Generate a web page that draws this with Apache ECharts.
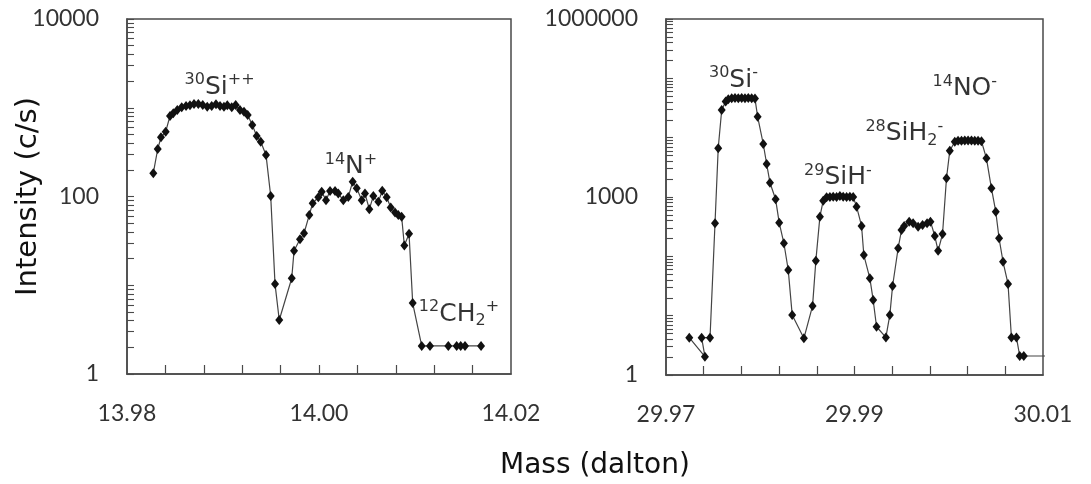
<!DOCTYPE html>
<html><head><meta charset="utf-8">
<script src="https://cdn.jsdelivr.net/npm/echarts@6/dist/echarts.min.js"></script>
<style>html,body{margin:0;padding:0;background:#fff}#c{width:1091px;height:484px}</style>
</head><body><div id="c"></div>
<script>
// ---- data ----
const leftMass = [13.98274,13.98320,13.98354,13.98403,13.98448,13.98482,13.98524,13.98570,13.98615,13.98656,
  13.98698,13.98743,13.98789,13.98836,13.98882,13.98927,13.98969,13.99010,13.99045,13.99091,
  13.99132,13.99177,13.99219,13.99257,13.99305,13.99351,13.99393,13.99448,13.99497,13.99542,
  13.99586,13.99716,13.99740,13.99802,13.99844,13.99899,13.99934,13.99993,14.00028,14.00073,
  14.00115,14.00167,14.00201,14.00253,14.00305,14.00351,14.00393,14.00445,14.00479,14.00524,
  14.00566,14.00618,14.00659,14.00705,14.00747,14.00792,14.00826,14.00861,14.00889,14.00938,
  14.00976,14.01070,14.01156,14.01347,14.01434,14.01476,14.01521,14.01688];
const leftIntensity = [183,343,464,537,807,865,944,1012,1047,1066,
  1102,1102,1074,1027,1047,1093,1047,1027,1066,1012,
  1074,944,902,828,640,481,414,294,101,10.3,
  4.06,12.0,24.5,33,38.5,62,84,98,113,91,
  115,115,108,91,99,147,124,91,108,72,
  101,87,116,98,75,66,62,59,28,38,
  6.3,2.07,2.07,2.07,2.07,2.07,2.07,2.07];

const rightMass = [29.97247,29.97413,29.97378,29.97467,29.97520,29.97554,29.97591,29.97633,29.97661,
  29.97697,29.97732,29.97767,29.97803,29.97838,29.97873,29.97909,29.97944,
  29.97972,29.98032,29.98068,29.98103,29.98163,29.98201,29.98251,29.98297,29.98339,
  29.98463,29.98555,29.98590,29.98633,29.98668,
  29.98704,29.98739,29.98774,29.98810,29.98845,29.98880,29.98916,29.98951,29.98986,
  29.99022,29.99075,29.99099,29.99163,29.99198,29.99234,29.99333,29.99375,29.99404,
  29.99463,29.99499,29.99527,29.99580,29.99622,29.99675,29.99722,29.99770,29.99806,
  29.99852,29.99887,29.99934,29.99976,30.00011,30.00064,
  30.00099,30.00135,30.00170,30.00205,30.00241,30.00276,30.00311,30.00347,
  30.00400,30.00453,30.00499,30.00534,30.00576,30.00629,30.00665,30.00718,30.00753,30.00796,
  30.01100];
const rightIntensity = [4.25,2.04,4.25,4.25,361,6620,29300,40500,44400,
  46100,46500,46100,46500,46100,46500,46100,45500,
  22600,7820,3600,1743,914,369,166,58.9,10.3,
  4.15,14.6,84.5,466,867,
  990,1000,1010,1000,1040,1010,1000,1010,1000,
  687,325,105,42.6,18.4,6.5,4.3,10.3,31.6,
  137,278,325,384,361,316,337,361,384,
  220,124,238,2066,6030,8550,
  8890,8890,8950,8950,8950,8890,8890,8700,
  4490,1400,565,201,81,34.2,4.3,4.3,2.09,2.09,
  2.09];

// axis ticks / labels
const leftXLabels = [13.98, 14.00, 14.02];
const rightXLabels = [29.97, 29.99, 30.01];
const leftXTicks = [13.984,13.988,13.992,13.996,14.000,14.004,14.008,14.012,14.016];
const rightXTicks = [29.974,29.978,29.982,29.986,29.990,29.994,29.998,30.002,30.006];
const leftYLabels = [1, 100, 10000];
const rightYLabels = [1, 1000, 1000000];

// peak annotations
const leftNotes = [
  {iso:'30', body:'Si', sub:'', charge:'++', mass:13.98964, intensity:1950},
  {iso:'14', body:'N', sub:'', charge:'+', mass:14.00333, intensity:245},
  {iso:'12', body:'CH', sub:'2', charge:'+', mass:14.01458, intensity:5.4}
];
const rightNotes = [
  {iso:'30', body:'Si', sub:'', charge:'-', mass:29.97716, intensity:113800},
  {iso:'29', body:'SiH', sub:'', charge:'-', mass:29.98824, intensity:2540},
  {iso:'28', body:'SiH', sub:'2', charge:'-', mass:29.99529, intensity:14000},
  {iso:'14', body:'NO', sub:'', charge:'-', mass:30.00170, intensity:81900}
];

// ---- chart ----
function logTicks(maxExp){
  const out=[];
  for(let e=0;e<=maxExp;e++){
    out.push(Math.pow(10,e));
    if(e<maxExp){ for(let k=2;k<=9;k++){ out.push(k*Math.pow(10,e)); } }
  }
  return out;
}
const AX = '#4a4a4a';
const labelFont = {fontFamily:'Lato', fontSize:23, color:'#333'};
const rich = {
  main:{fontFamily:'DejaVu Sans', fontSize:25, lineHeight:30, color:'#000'},
  sup:{fontFamily:'DejaVu Sans', fontSize:16, lineHeight:16, verticalAlign:'top', color:'#000'},
  sub:{fontFamily:'DejaVu Sans', fontSize:16, lineHeight:16, verticalAlign:'bottom', color:'#000'}
};
function noteText(n){
  let s='{sup|'+n.iso+'}{main|'+n.body+'}';
  if(n.sub) s+='{sub|'+n.sub+'}';
  s+='{sup|'+n.charge+'}';
  return s;
}
function xAxis(grid, min, max, labels, ticks){
  return {type:'value', gridIndex:grid, min:min, max:max,
    axisLine:{show:true, onZero:false, lineStyle:{color:AX, width:1.5}},
    axisTick:{show:true, inside:true, length:9, customValues:ticks, lineStyle:{color:AX, width:1.2}},
    axisLabel:Object.assign({show:true, margin:28, customValues:labels,
      formatter:function(v){return Number(v).toFixed(2);}}, labelFont),
    splitLine:{show:false}};
}
function yMain(grid, maxExp, labels, name){
  return {type:'log', logBase:10, gridIndex:grid, min:1, max:Math.pow(10,maxExp), position:'left',
    name:name, nameLocation:'middle', nameGap:84, nameMoveOverlap:false,
    nameTextStyle:{fontFamily:'DejaVu Sans', fontSize:29, color:'#111'},
    axisLine:{show:true, lineStyle:{color:AX, width:1.5}},
    axisTick:{show:true, inside:true, length:7, customValues:logTicks(maxExp), lineStyle:{color:AX, width:1.1}},
    axisLabel:Object.assign({show:true, margin:28, customValues:labels,
      formatter:function(v){return String(Math.round(v));}}, labelFont),
    splitLine:{show:false}};
}
function lineSeries(xi, yi, mass, inten, axisMax){
  return {type:'line', xAxisIndex:xi, yAxisIndex:yi, clip:false,
    data: mass.map(function(m,i){
      const item = {value:[m, inten[i]]};
      if(m > axisMax) item.symbol = 'none';
      return item;
    }),
    symbol:'diamond', symbolSize:[8,10],
    itemStyle:{color:'#111'},
    lineStyle:{color:'#444', width:1.2},
    animation:false, z:3};
}
function noteSeries(xi, yi, notes){
  return {type:'scatter', xAxisIndex:xi, yAxisIndex:yi, symbolSize:0, silent:true, clip:false,
    data: notes.map(function(n){ return {value:[n.mass, n.intensity], label:{formatter:noteText(n)}}; }),
    label:{show:true, position:'inside', align:'center', verticalAlign:'middle', offset:[0,5], rich:rich},
    animation:false, z:5};
}

const chart = echarts.init(document.getElementById('c'));
chart.setOption({
  backgroundColor:'#fff',
  animation:false,
  title:{text:'Mass (dalton)', left:500, top:452, padding:0,
    textStyle:{fontFamily:'DejaVu Sans', fontSize:28, fontWeight:'normal', color:'#111'}},
  grid:[
    {left:127, top:19, width:384, height:355, show:true, borderColor:AX, borderWidth:1.5, backgroundColor:'transparent'},
    {left:666, top:19, width:377, height:356, show:true, borderColor:AX, borderWidth:1.5, backgroundColor:'transparent'}
  ],
  xAxis:[
    xAxis(0, 13.98, 14.02, leftXLabels, leftXTicks),
    xAxis(1, 29.97, 30.01, rightXLabels, rightXTicks)
  ],
  yAxis:[
    yMain(0, 4, leftYLabels, 'Intensity (c/s)'),
    yMain(1, 6, rightYLabels, '')
  ],
  series:[
    lineSeries(0, 0, leftMass, leftIntensity, 14.02),
    lineSeries(1, 1, rightMass, rightIntensity, 30.01),
    noteSeries(0, 0, leftNotes),
    noteSeries(1, 1, rightNotes)
  ]
});
</script>
</body></html>
